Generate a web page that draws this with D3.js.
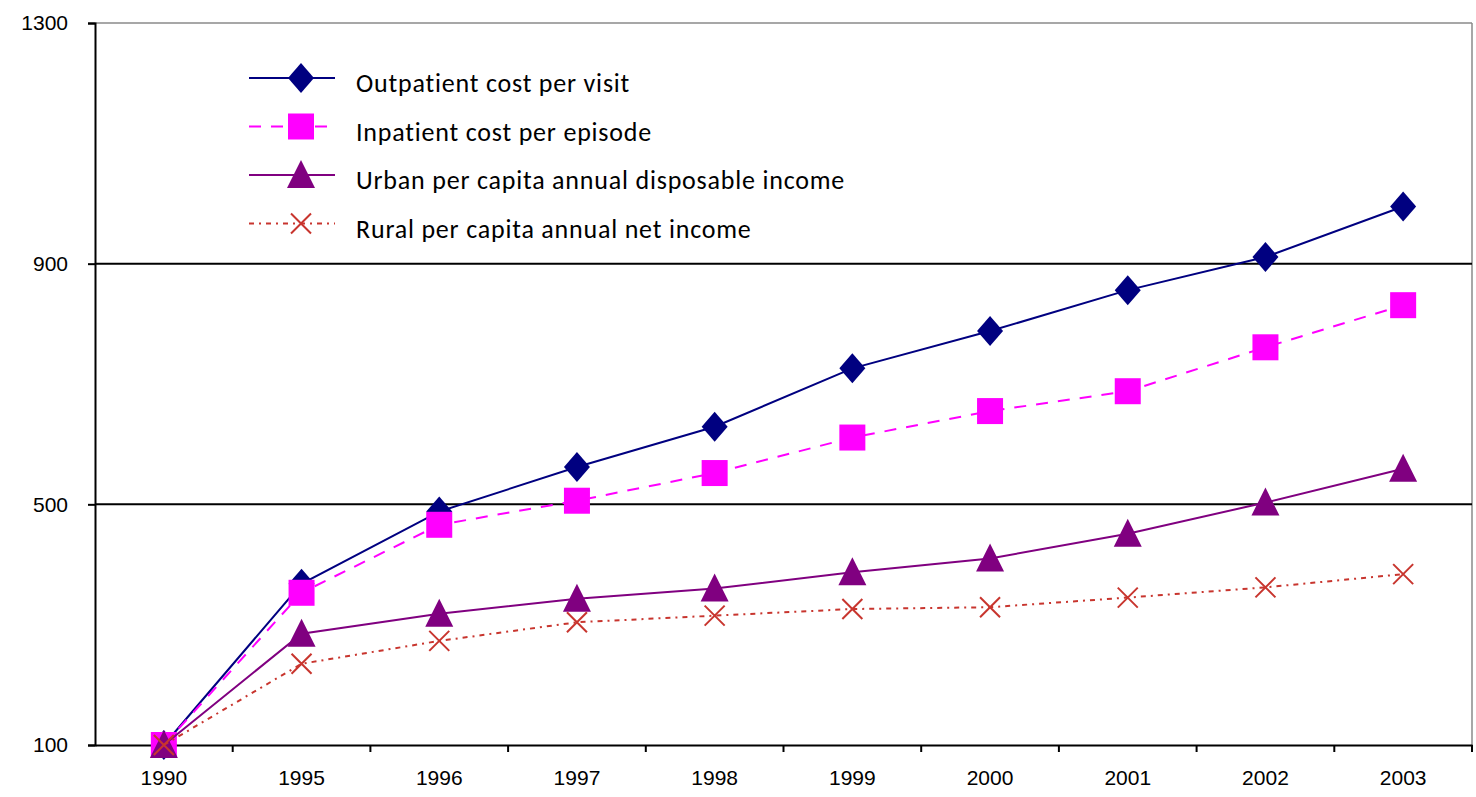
<!DOCTYPE html>
<html>
<head>
<meta charset="utf-8">
<script src="https://cdn.jsdelivr.net/npm/d3@7"></script>
<style>
  body { margin: 0; background: #fff; }
  svg { display: block; }
  .axis text { font-family: Arial, "Liberation Sans", sans-serif; font-size: 21px; fill: #000; }
  .legend text { font-family: Carlito, Lato, "Open Sans", sans-serif; font-size: 26px; letter-spacing: 0.8px; fill: #000; }
</style>
</head>
<body>
<svg id="chart"></svg>
<script>
const width = 1476;
const height = 797;
const margin = {top: 23, right: 4, bottom: 52, left: 95};

// data (1990 = 100)
const years = ['1990', '1995', '1996', '1997', '1998', '1999', '2000', '2001', '2002', '2003'];
const outpatient = [100, 368, 488, 562, 629, 726, 788, 856, 911, 995];
const inpatient = [100, 353, 466, 506, 552, 611, 655, 688, 761, 831];
const urban = [100, 285, 318, 343, 360, 387, 410, 451, 503, 559];
const rural = [100, 235, 273, 304, 315, 326, 329, 345, 362, 384];
const yTicks = [100, 500, 900, 1300];
const gridValues = [500, 900];

const series = [
  {name: 'Outpatient cost per visit', values: outpatient, color: '#000080', dash: null, marker: 'diamond'},
  {name: 'Inpatient cost per episode', values: inpatient, color: '#ff00ff', dash: '12,10', marker: 'square'},
  {name: 'Urban per capita annual disposable income', values: urban, color: '#800080', dash: null, marker: 'triangle'},
  {name: 'Rural per capita annual net income', values: rural, color: '#c8352e', dash: '5,5,2,5', marker: 'cross'}
];

const svg = d3.select('#chart')
  .attr('width', width)
  .attr('height', height);

const x = d3.scaleBand().domain(years).range([margin.left, width - margin.right]).padding(0);
const y = d3.scaleLinear().domain([100, 1300]).range([height - margin.bottom, margin.top]);

// frame: thin grey top/right
svg.append('line')
  .attr('x1', margin.left).attr('x2', width - margin.right)
  .attr('y1', y(1300)).attr('y2', y(1300))
  .attr('stroke', '#8a8a8a').attr('stroke-width', 1.5);
svg.append('line')
  .attr('x1', width - margin.right).attr('x2', width - margin.right)
  .attr('y1', y(1300)).attr('y2', y(100))
  .attr('stroke', '#8a8a8a').attr('stroke-width', 1.5);

// gridlines
svg.selectAll('.grid').data(gridValues).enter().append('line')
  .attr('class', 'grid')
  .attr('x1', margin.left).attr('x2', width - margin.right)
  .attr('y1', d => y(d)).attr('y2', d => y(d))
  .attr('stroke', '#000').attr('stroke-width', 2);

// y axis
const yAxis = svg.append('g').attr('class', 'axis')
  .attr('transform', `translate(${margin.left},0)`)
  .call(d3.axisLeft(y).tickValues(yTicks).tickSize(7).tickPadding(20).tickFormat(d3.format('d')));
yAxis.select('.domain').attr('stroke-width', 2);
yAxis.selectAll('.tick line').attr('stroke-width', 2);

// x axis, labels centred in bands, ticks on band edges
const xAxis = svg.append('g').attr('class', 'axis')
  .attr('transform', `translate(0,${y(100)})`)
  .call(d3.axisBottom(x).tickSize(0).tickPadding(25).tickSizeOuter(0));
xAxis.select('.domain').attr('stroke-width', 2);
xAxis.selectAll('.edge').data(years.slice(1).concat(['end'])).enter().append('line')
  .attr('class', 'edge')
  .attr('x1', d => d === 'end' ? x.range()[1] : x(d))
  .attr('x2', d => d === 'end' ? x.range()[1] : x(d))
  .attr('y1', 0).attr('y2', 7)
  .attr('stroke', '#000').attr('stroke-width', 2);

function drawMarker(g, type, color) {
  if (type === 'diamond') {
    g.append('path').attr('d', 'M0,-15L13,0L0,15L-13,0Z').attr('fill', color);
  } else if (type === 'square') {
    g.append('rect').attr('x', -13).attr('y', -13).attr('width', 26).attr('height', 26).attr('fill', color);
  } else if (type === 'triangle') {
    g.append('path').attr('d', 'M0,-15L14,13L-14,13Z').attr('fill', color);
  } else {
    g.append('path').attr('d', 'M-10,-10L10,10M-10,10L10,-10')
      .attr('stroke', color).attr('stroke-width', 2).attr('fill', 'none');
  }
}

const line = d3.line()
  .x((d, i) => x(years[i]) + x.bandwidth() / 2)
  .y(d => y(d));

// series drawn in order, later ones on top
series.forEach(s => {
  svg.append('path')
    .datum(s.values)
    .attr('fill', 'none')
    .attr('stroke', s.color)
    .attr('stroke-width', 2)
    .attr('stroke-dasharray', s.dash)
    .attr('d', line);

  s.values.forEach((v, i) => {
    const g = svg.append('g')
      .attr('transform', `translate(${x(years[i]) + x.bandwidth() / 2},${y(v)})`);
    drawMarker(g, s.marker, s.color);
  });
});

// legend
const legend = svg.append('g').attr('class', 'legend');
series.forEach((s, i) => {
  const ly = 78 + i * 48.5;
  legend.append('line')
    .attr('x1', 249).attr('x2', 335)
    .attr('y1', ly).attr('y2', ly)
    .attr('stroke', s.color).attr('stroke-width', 2)
    .attr('stroke-dasharray', s.dash);
  const g = legend.append('g').attr('transform', `translate(301,${ly})`);
  drawMarker(g, s.marker, s.color);
  legend.append('text')
    .attr('x', 356).attr('y', ly + 5)
    .attr('dominant-baseline', 'central')
    .text(s.name);
});
</script>
</body>
</html>
